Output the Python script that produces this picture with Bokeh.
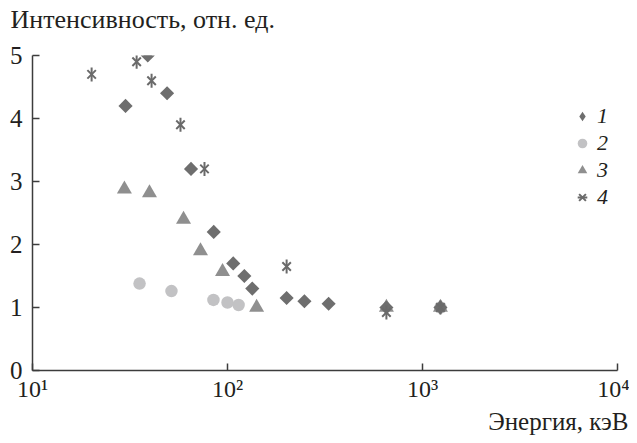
from bokeh.plotting import figure
from bokeh.models import FixedTicker, Range1d, Legend, LegendItem, Title, LinearAxis
from bokeh.embed import file_html
from bokeh.resources import INLINE
import numpy as np

# ---- data ----
energy_1 = [30, 39, 49, 65, 85, 107, 122, 134, 201, 248, 330, 653, 1236]
intens_1 = [4.2, 5.0, 4.4, 3.2, 2.2, 1.7, 1.5, 1.3, 1.15, 1.1, 1.06, 1.0, 1.0]

energy_2 = [35.4, 51.6, 84.7, 100, 114, 1236]
intens_2 = [1.38, 1.26, 1.12, 1.08, 1.04, 1.0]

energy_3 = [29.6, 39.8, 59.5, 72.7, 94.3, 141, 653, 1236]
intens_3 = [2.88, 2.82, 2.4, 1.9, 1.57, 1.0, 1.0, 1.0]

energy_4 = [20.1, 34.2, 40.8, 57.4, 76.2, 201, 653, 1236]
intens_4 = [4.7, 4.9, 4.6, 3.9, 3.2, 1.65, 0.92, 1.0]

x_ticks = [10, 100, 1000, 10000]
x_tick_labels = ["10¹", "10²", "10³", "10⁴"]
y_ticks = [0, 1, 2, 3, 4, 5]
series_labels = ["1", "2", "3", "4"]

y_title = "Интенсивность, отн. ед."
x_title = "Энергия, кэВ"

FONT = "Liberation Serif"
TXT = "#231f20"
AX = "#3c3c3c"
C1, C2, C3, C4 = "#6e6e6e", "#c2c2c4", "#8f8f8f", "#6a6a6a"

p = figure(width=629, height=435, x_axis_type="log",
           x_range=Range1d(10, 10000), y_range=Range1d(0, 5),
           output_backend="svg", toolbar_location=None,
           min_border_left=32, min_border_right=12,
           min_border_top=55, min_border_bottom=64)
p.outline_line_color = None
p.grid.visible = False
p.background_fill_color = "white"

xa = p.below[0]
ya = p.left[0]

# invisible spacer axis above the frame (one hidden tick, empty label),
# so the caption sits higher above the plot area
spacer = LinearAxis(ticker=FixedTicker(ticks=[x_ticks[1]], minor_ticks=[]),
                    major_label_overrides={x_ticks[1]: ""},
                    axis_line_color=None, major_tick_line_color=None,
                    minor_tick_line_color=None, major_tick_in=0, major_tick_out=22,
                    minor_tick_out=0, major_label_standoff=0,
                    major_label_text_font_size="1px")
p.add_layout(spacer, "above")

# caption of the intensity scale (top-left)
p.title.text = y_title
p.title.align = "left"
p.title.offset = -22
p.title.text_font = FONT
p.title.text_font_size = "26px"
p.title.text_font_style = "normal"
p.title.text_color = TXT
p.title.standoff = 0

# caption of the energy axis (bottom-right)
xt = Title(text=x_title, align="right", text_font=FONT, text_font_size="25px",
           text_font_style="normal", text_color=TXT, offset=-11, standoff=2)
p.add_layout(xt, "below")

xa.ticker = FixedTicker(ticks=x_ticks, minor_ticks=[])
xa.major_label_overrides = {t: l for t, l in zip(x_ticks, x_tick_labels)}
ya.ticker = FixedTicker(ticks=y_ticks, minor_ticks=[])
for ax in (xa, ya):
    ax.axis_line_color = AX
    ax.axis_line_width = 1.5
    ax.major_tick_line_color = AX
    ax.major_tick_line_width = 1.5
    ax.major_tick_in = 7
    ax.major_tick_out = 0
    ax.minor_tick_line_color = None
    ax.major_label_text_font = FONT
    ax.major_label_text_font_size = "24px"
    ax.major_label_text_color = TXT
xa.major_label_standoff = 5
ya.major_label_standoff = 10
ya.major_label_text_font_size = "25px"

r2 = p.scatter(energy_2, intens_2, marker="circle", size=12.5, fill_color=C2, line_color=None)
r3 = p.scatter(energy_3, intens_3, marker="triangle", size=15, fill_color=C3, line_color=None)
# diamond hidden under the rotated squares: gives the legend its diamond shape
r1d = p.scatter(energy_1, intens_1, marker="diamond", size=13, fill_color=C1, line_color=None)
r1 = p.scatter(energy_1, intens_1, marker="square", angle=np.pi / 4, size=10,
               fill_color=C1, line_color=None)
r4a = p.scatter(energy_4, intens_4, marker="x", size=12, line_color=C4, line_width=2)
r4b = p.scatter(energy_4, intens_4, marker="dash", angle=np.pi / 2, size=14,
                line_color=C4, line_width=2)

legend = Legend(items=[LegendItem(label=series_labels[0], renderers=[r1d]),
                       LegendItem(label=series_labels[1], renderers=[r2]),
                       LegendItem(label=series_labels[2], renderers=[r3]),
                       LegendItem(label=series_labels[3], renderers=[r4a, r4b])],
                location=(538, 160), orientation="vertical",
                glyph_width=24, glyph_height=24, spacing=1, padding=0, margin=0,
                label_standoff=3, label_text_font=FONT, label_text_font_size="22px",
                label_text_font_style="italic", label_text_color=TXT,
                border_line_color=None, background_fill_alpha=0)
p.add_layout(legend)

open("out.html", "w").write(file_html(p, INLINE))
